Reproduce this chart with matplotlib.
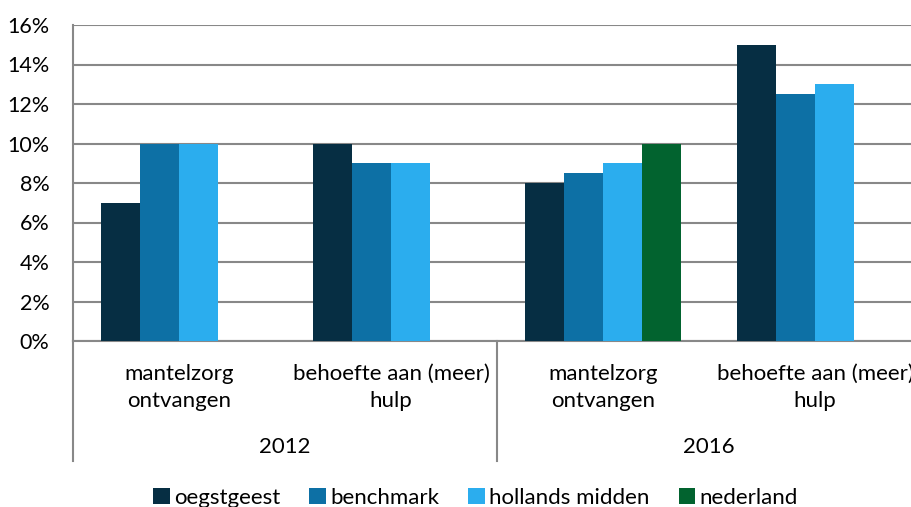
import numpy as np
import matplotlib.pyplot as plt

plt.rcParams['font.family'] = ['Lato', 'DejaVu Sans']

# Data
categories = ["mantelzorg\nontvangen", "behoefte aan (meer)\nhulp",
              "mantelzorg\nontvangen", "behoefte aan (meer)\nhulp"]
years = ["2012", "2016"]
series_names = ["oegstgeest", "benchmark", "hollands midden", "nederland"]
oegstgeest = [7, 10, 8, 15]
benchmark = [10, 9, 8.5, 12.5]
hollands_midden = [10, 9, 9, 13]
nederland = [np.nan, np.nan, 10, np.nan]
colors = ["#062e43", "#0d70a5", "#2badee", "#02632f"]

values = [oegstgeest, benchmark, hollands_midden, nederland]

fig = plt.figure(figsize=(9.11, 5.07), dpi=100)
ax = fig.add_axes([73 / 911, 166 / 507, 848 / 911, 316 / 507])

x = np.arange(len(categories))
w = 0.184
handles = []
for i, (vals, name, c) in enumerate(zip(values, series_names, colors)):
    b = ax.bar(x + (i - 1.5) * w, vals, width=w, color=c, label=name, zorder=3)
    handles.append(b)

ax.set_xlim(-0.5, 3.5)
ax.set_ylim(0, 16)
ax.set_yticks(np.arange(0, 17, 2))
ax.set_yticklabels([f"{v}%" for v in range(0, 17, 2)], fontsize=15.5)
ax.yaxis.grid(True, color="#888888", linewidth=1.5, zorder=0)
ax.set_xticks([])
ax.tick_params(axis="y", length=0, pad=17)
for s in ["top", "right"]:
    ax.spines[s].set_visible(False)
ax.spines["left"].set_color("#888888")
ax.spines["left"].set_linewidth(1.5)
ax.spines["bottom"].set_color("#888888")
ax.spines["bottom"].set_linewidth(1.5)

# category axis below the plot
trans = ax.get_xaxis_transform()
for xv in [-0.5, 1.5, 3.5]:
    ax.plot([xv, xv], [0, -0.38], transform=trans, color="#888888",
            linewidth=1.5, clip_on=False)
for xi, lab in zip(x, categories):
    ax.text(xi, -0.147, lab, transform=trans, ha="center", va="center",
            fontsize=16, linespacing=1.45)
for j, yr in enumerate(years):
    ax.text(0.5 + 2 * j, -0.335, yr, transform=trans, ha="center",
            va="center", fontsize=16)

fig.legend(handles=handles, loc="center", bbox_to_anchor=(0.522, 0.018),
           ncol=4, frameon=False, fontsize=16, handlelength=0.75,
           handleheight=0.75, handletextpad=0.2, columnspacing=1.3)

plt.savefig("out.png", dpi=100)
